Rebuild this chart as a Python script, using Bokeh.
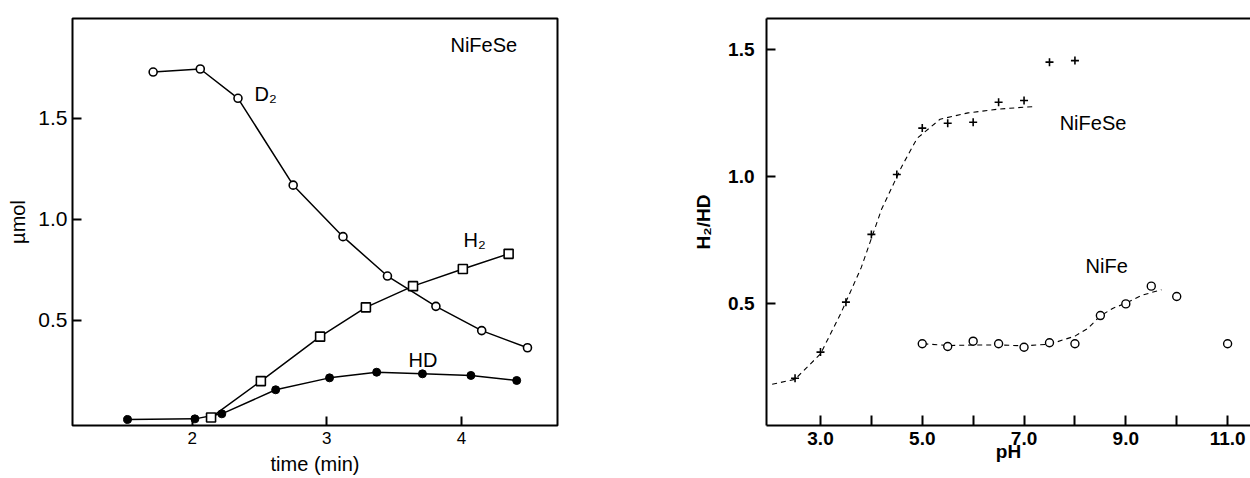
from bokeh.plotting import figure
from bokeh.models import Range1d, FixedTicker, LinearAxis
from bokeh.layouts import row
from bokeh.embed import file_html
from bokeh.resources import INLINE
from bokeh.core.properties import value

FONT = "Liberation Sans"

# ---------------- Left panel data (time course, NiFeSe) ----------------
d2_t = [1.71, 2.06, 2.34, 2.75, 3.12, 3.45, 3.81, 4.15, 4.49]
d2_v = [1.73, 1.745, 1.60, 1.17, 0.915, 0.72, 0.57, 0.45, 0.365]

h2_t = [2.14, 2.51, 2.95, 3.29, 3.64, 4.01, 4.35]
h2_v = [0.02, 0.20, 0.42, 0.565, 0.67, 0.755, 0.83]

hd_t = [1.52, 2.02, 2.22, 2.62, 3.02, 3.37, 3.71, 4.07, 4.41]
hd_v = [0.01, 0.013, 0.038, 0.157, 0.216, 0.244, 0.236, 0.228, 0.203]

left_xticks = [2, 3, 4]
left_yticks = [0.5, 1.0, 1.5]
left_ylabels = {0.5: "0.5", 1.0: "1.0", 1.5: "1.5"}

# ---------------- Right panel data (H2/HD vs pH) ----------------
nifese_ph = [2.5, 3.0, 3.5, 4.0, 4.5, 5.0, 5.5, 6.0, 6.5, 7.0, 7.5, 8.0]
nifese_v = [0.204, 0.307, 0.504, 0.771, 1.007, 1.19, 1.209, 1.213, 1.292, 1.299, 1.45, 1.456]

nife_ph = [5.0, 5.5, 6.0, 6.5, 7.0, 7.5, 8.0, 8.5, 9.0, 9.5, 10.0, 11.0]
nife_v = [0.34, 0.329, 0.35, 0.34, 0.326, 0.344, 0.34, 0.451, 0.497, 0.567, 0.526, 0.34]

# dashed trend curves
nifese_curve_ph = [2.05, 2.5, 3.0, 3.4, 3.8, 4.2, 4.6, 4.9, 5.35, 5.9, 6.5, 7.2]
nifese_curve_v = [0.18, 0.20, 0.30, 0.46, 0.64, 0.87, 1.04, 1.15, 1.225, 1.25, 1.265, 1.275]

nife_curve_ph = [5.02, 5.5, 6.0, 6.5, 7.0, 7.5, 8.0, 8.25, 8.5, 8.75, 9.0, 9.3, 9.7]
nife_curve_v = [0.34, 0.333, 0.335, 0.335, 0.332, 0.338, 0.37, 0.40, 0.45, 0.48, 0.50, 0.53, 0.553]

right_xticks = [3, 4, 5, 6, 7, 8, 9, 10, 11]
right_xlabels = {3: "3.0", 4: "", 5: "5.0", 6: "", 7: "7.0", 8: "", 9: "9.0", 10: "", 11: "11.0"}
right_yticks = [0.5, 1.0, 1.5]
right_ylabels = {0.5: "0.5", 1.0: "1.0", 1.5: "1.5"}


def style_axis(ax, size, bold=False, tick_len=9, standoff=5):
    ax.major_tick_in = tick_len
    ax.major_tick_out = 0
    ax.minor_tick_line_color = None
    ax.major_tick_line_color = "black"
    ax.major_tick_line_width = 2
    ax.major_label_text_font = FONT
    ax.major_label_text_font_size = size
    ax.major_label_text_color = "black"
    ax.major_label_text_font_style = "bold" if bold else "normal"
    ax.major_label_standoff = standoff
    ax.axis_label_text_font = FONT
    ax.axis_label_text_color = "black"


H = 478
TOP = 18
BOTTOM = 53

# ---------------- Left figure ----------------
p1 = figure(width=577, height=H, output_backend="svg", toolbar_location=None,
            x_range=Range1d(1.111, 4.713), y_range=Range1d(-0.0198, 1.995),
            min_border_left=72, min_border_right=20, min_border_top=TOP, min_border_bottom=BOTTOM)
p1.grid.grid_line_color = None
p1.outline_line_color = "black"
p1.outline_line_width = 2
p1.outline_line_alpha = 1
p1.background_fill_color = "white"
p1.border_fill_color = "white"

p1.xaxis.ticker = FixedTicker(ticks=left_xticks)
p1.yaxis.ticker = FixedTicker(ticks=left_yticks)
p1.yaxis.major_label_overrides = left_ylabels
style_axis(p1.xaxis[0], "17px", standoff=6)
style_axis(p1.yaxis[0], "21px", standoff=5)
p1.xaxis.axis_line_color = None
p1.yaxis.axis_line_color = None
p1.xaxis.axis_label = "time (min)"
p1.yaxis.axis_label = "µmol"
p1.xaxis.axis_label_text_font_size = "20px"
p1.yaxis.axis_label_text_font_size = "20px"
p1.xaxis.axis_label_text_font_style = "normal"
p1.yaxis.axis_label_text_font_style = "normal"
p1.xaxis.axis_label_standoff = 6
p1.yaxis.axis_label_standoff = 6

p1.line(d2_t, d2_v, line_color="black", line_width=1.5)
p1.line(h2_t, h2_v, line_color="black", line_width=1.5)
p1.line(hd_t, hd_v, line_color="black", line_width=1.5)
p1.scatter(d2_t, d2_v, marker="circle", size=8, fill_color="white", line_color="black", line_width=1.6)
p1.scatter(h2_t, h2_v, marker="square", size=9, fill_color="white", line_color="black", line_width=1.6)
p1.scatter(hd_t, hd_v, marker="circle", size=8, fill_color="black", line_color="black", line_width=1)

p1.text(x=[3.918, 2.463, 4.015, 3.606], y=[1.866, 1.619, 0.90, 0.302],
        text=["NiFeSe", "D₂", "H₂", "HD"],
        text_font=value(FONT), text_font_size="20px", text_color="black",
        text_baseline="middle", text_align="left")

# ---------------- Right figure ----------------
p2 = figure(width=673, height=H, output_backend="svg", toolbar_location=None,
            x_range=Range1d(1.939, 11.45), y_range=Range1d(0.0177, 1.622),
            min_border_left=189, min_border_right=0, min_border_top=TOP, min_border_bottom=BOTTOM)
p2.grid.grid_line_color = None
p2.outline_line_color = None
p2.background_fill_color = "white"
p2.border_fill_color = "white"

p2.xaxis.ticker = FixedTicker(ticks=right_xticks)
p2.xaxis.major_label_overrides = right_xlabels
p2.yaxis.ticker = FixedTicker(ticks=right_yticks)
p2.yaxis.major_label_overrides = right_ylabels
style_axis(p2.xaxis[0], "19px", bold=True, tick_len=10, standoff=6)
style_axis(p2.yaxis[0], "19px", bold=True, tick_len=9, standoff=12)
for ax in (p2.xaxis[0], p2.yaxis[0]):
    ax.axis_line_color = "black"
    ax.axis_line_width = 2
p2.xaxis.axis_label = "pH"
p2.yaxis.axis_label = "H₂/HD"
p2.xaxis.axis_label_text_font_size = "19px"
p2.yaxis.axis_label_text_font_size = "19px"
p2.xaxis.axis_label_text_font_style = "bold"
p2.yaxis.axis_label_text_font_style = "bold"
p2.xaxis.axis_label_standoff = -7
p2.yaxis.axis_label_standoff = 11

top_ax = LinearAxis(major_tick_line_color=None, minor_tick_line_color=None,
                    major_label_text_font_size="0px", axis_line_width=2, axis_line_color="black")
top_ax.ticker = FixedTicker(ticks=[])
p2.add_layout(top_ax, "above")

p2.line(nifese_curve_ph, nifese_curve_v, line_color="black", line_width=1.1, line_dash="5 4")
p2.line(nife_curve_ph, nife_curve_v, line_color="black", line_width=1.1, line_dash="5 4")
p2.scatter(nifese_ph, nifese_v, marker="cross", size=8, line_color="black", line_width=1.6)
p2.scatter(nife_ph, nife_v, marker="circle", size=8, fill_color="white", line_color="black", line_width=1.4)

p2.text(x=[7.70, 8.21], y=[1.209, 0.646], text=["NiFeSe", "NiFe"],
        text_font=value(FONT), text_font_size="20px", text_color="black",
        text_baseline="middle", text_align="left")

layout = row(p1, p2)
open("out.html", "w").write(file_html(layout, INLINE))
